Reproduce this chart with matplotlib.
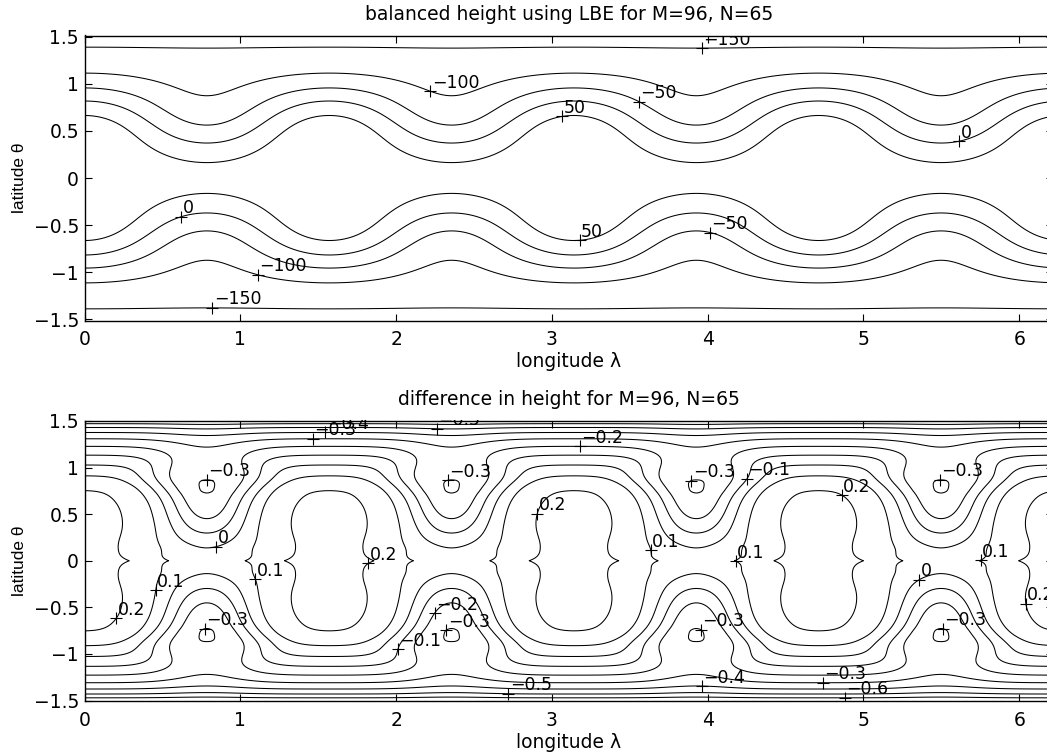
import numpy as np
import matplotlib
matplotlib.use("Agg")
import matplotlib.pyplot as plt
from matplotlib.path import Path
from matplotlib.transforms import offset_copy

plt.rcParams['font.family'] = ['DejaVu Sans']
plt.rcParams['contour.negative_linestyle'] = 'solid'

# grid: M=96 longitudes (last one short of 2*pi), latitudes inside the poles
M = 96
lon_max = 2 * np.pi * (M - 1) / M
lat_max_top = 1.515
lat_max_bot = 1.505

lon = np.linspace(0, lon_max, 721)
lat_top = np.linspace(-lat_max_top, lat_max_top, 401)
lat_bot = np.linspace(-lat_max_bot, lat_max_bot, 401)

# balanced height: zonal flow plus a wavenumber-4 Rossby-Haurwitz wave
wave_no = 4
h_mean = 80.0
h_zonal = 238.0
h_wave = 15.0
height_levels = [-150, -100, -50, 0, 50]

# difference field parameters
plateau = 0.218
polar_coef = 0.245
fall_slope = 0.75
fall_start = 0.78
fall_width = 0.03
ridge_amp = 0.035
ridge_width = 0.1
trough_depth = 0.508
trough_lat = 0.74
trough_spread_eq = 0.65
trough_spread_pole = 0.375
trough_pow_pole = 1.75
trough_eq_extra = 0.076
diff_levels = [-0.6, -0.5, -0.4, -0.3, -0.2, -0.1, 0.0, 0.1, 0.2]

# contour label spots (longitude, latitude, level)
height_labels = [
    (3.96, 1.39, -150), (2.22, 0.92, -100), (3.555, 0.80, -50),
    (3.065, 0.64, 50), (5.61, 0.395, 0), (0.623, -0.42, 0),
    (1.111, -1.02, -100), (0.818, -1.39, -150), (3.173, -0.647, 50),
    (4.015, -0.58, -50),
]
diff_labels = [
    (1.469, 1.302, -0.3), (1.544, 1.40, -0.4), (2.26, 1.43, -0.5),
    (3.174, 1.202, -0.2), (0.785, 0.88, -0.3), (2.33, 0.85, -0.3),
    (3.90, 0.85, -0.3), (5.49, 0.88, -0.3), (4.282, 0.845, -0.1),
    (4.86, 0.70, 0.2), (2.917, 0.498, 0.2), (0.848, 0.137, 0.0),
    (3.61, 0.104, 0.1), (5.748, 0.02, 0.1), (4.175, -0.01, 0.1),
    (0.388, -0.298, 0.1), (0.196, -0.602, 0.2), (1.126, -0.173, 0.1),
    (1.843, -0.077, 0.2), (0.773, -0.72, -0.3), (2.329, -0.756, -0.3),
    (3.95, -0.756, -0.3), (5.512, -0.745, -0.3), (2.222, -0.53, -0.2),
    (1.967, -0.924, -0.1), (5.352, -0.19, 0.0), (6.047, -0.46, 0.2),
    (2.716, -1.44, -0.5), (3.96, -1.37, -0.4), (4.742, -1.306, -0.3),
    (4.877, -1.46, -0.6),
]

xticks = [0, 1, 2, 3, 4, 5, 6]
xtick_labels = ['0', '1', '2', '3', '4', '5', '6']
yticks = [-1.5, -1, -0.5, 0, 0.5, 1, 1.5]
ytick_labels = ['\u22121.5', '\u22121', '\u22120.5', '0', '0.5', '1', '1.5']

FS = 13.5


def balanced_height(lam, th):
    c2 = np.cos(th) ** 2
    wave = c2 ** 2 * (26 - 25 * c2)
    return h_mean - h_zonal * np.sin(th) ** 2 + h_wave * wave * np.cos(wave_no * lam)


def height_difference(lam, th):
    x = np.abs(th)
    zonal = (plateau
             - polar_coef * (-np.log(np.cos(x)) - x ** 2 / 2)
             - fall_slope * fall_width * np.logaddexp(0, (x - fall_start) / fall_width))
    ridge = ridge_amp * np.exp(-x / ridge_width)
    d = x - trough_lat
    depth = np.where(d < 0,
                     trough_depth * np.exp(-(d / trough_spread_eq) ** 2),
                     trough_depth * np.exp(-(np.abs(d) / trough_spread_pole) ** trough_pow_pole))
    depth = depth + trough_eq_extra * np.exp(-(x / 0.1) ** 2)
    width = 0.30 + 0.12 * np.exp(-(x / 0.25) ** 2) + 0.09 * np.exp(-((x - 0.9) / 0.2) ** 2)
    power = 2 + 0.7 * np.exp(-((x - 0.95) / 0.18) ** 2)
    shape = np.zeros_like(lam)
    for k in range(-1, 5):
        c = np.pi / 4 + k * np.pi / 2
        shape = shape + np.exp(-(np.abs(lam - c) / width) ** power)
    return zonal + ridge - depth * shape


def label_contours(ax, cs, labels, sx, sy):
    # '+' on the contour nearest each spot, value written up and to the right
    offs = offset_copy(ax.transData, fig=ax.figure, x=1.0, y=2.5, units='points')
    levs = np.asarray(cs.levels, dtype=float)
    paths = cs.get_paths()
    for lam0, th0, lev in labels:
        i = int(np.argmin(np.abs(levs - lev)))
        p = paths[i]
        pts = p.vertices
        if p.codes is not None:
            pts = pts[p.codes != Path.CLOSEPOLY]
        if len(pts) == 0:
            continue
        dist = ((pts[:, 0] - lam0) * sx) ** 2 + ((pts[:, 1] - th0) * sy) ** 2
        x, y = pts[np.argmin(dist)]
        ax.plot(x, y, '+', color='k', ms=9, mew=0.8)
        ax.text(x, y, f'{lev:g}'.replace('-', '\u2212'), transform=offs,
                ha='left', va='baseline', fontsize=12.5, clip_on=True)


def style_axes(ax, lat_max, title):
    ax.set_xlim(0, lon_max)
    ax.set_ylim(-lat_max, lat_max)
    ax.set_xticks(xticks)
    ax.set_xticklabels(xtick_labels)
    ax.set_yticks(yticks)
    ax.set_yticklabels(ytick_labels)
    ax.tick_params(direction='in', top=True, right=True, length=5, width=0.8,
                   labelsize=FS)
    ax.tick_params(axis='x', pad=7)
    ax.tick_params(axis='y', pad=4)
    for sp in ax.spines.values():
        sp.set_linewidth(1.0)
    ax.set_title(title, fontsize=FS, pad=11.5)
    ax.set_xlabel('longitude \u03bb', fontsize=FS, labelpad=2)
    ax.set_ylabel('latitude \u03b8', fontsize=12.5, family='Liberation Sans', labelpad=5)


fig = plt.figure(figsize=(10.47, 7.53), dpi=100)
W, H = 1047.0, 753.0
left = 84.5 / W
width = (1053.2 - 84.5) / W
ax1 = fig.add_axes([left, 1 - 320.5 / H, width, 285 / H])
ax2 = fig.add_axes([left, 1 - 701 / H, width, 280.5 / H])

LON, LAT = np.meshgrid(lon, lat_top)
cs1 = ax1.contour(LON, LAT, balanced_height(LON, LAT), levels=height_levels,
                  colors='k', linewidths=0.75)
style_axes(ax1, lat_max_top, 'balanced height using LBE for M=96, N=65')
label_contours(ax1, cs1, height_labels, 155.8, 94.0)

LON, LAT = np.meshgrid(lon, lat_bot)
cs2 = ax2.contour(LON, LAT, height_difference(LON, LAT), levels=diff_levels,
                  colors='k', linewidths=0.75)
style_axes(ax2, lat_max_bot, 'difference in height for M=96, N=65')
label_contours(ax2, cs2, diff_labels, 155.8, 93.3)

fig.savefig('out.png', dpi=100)
